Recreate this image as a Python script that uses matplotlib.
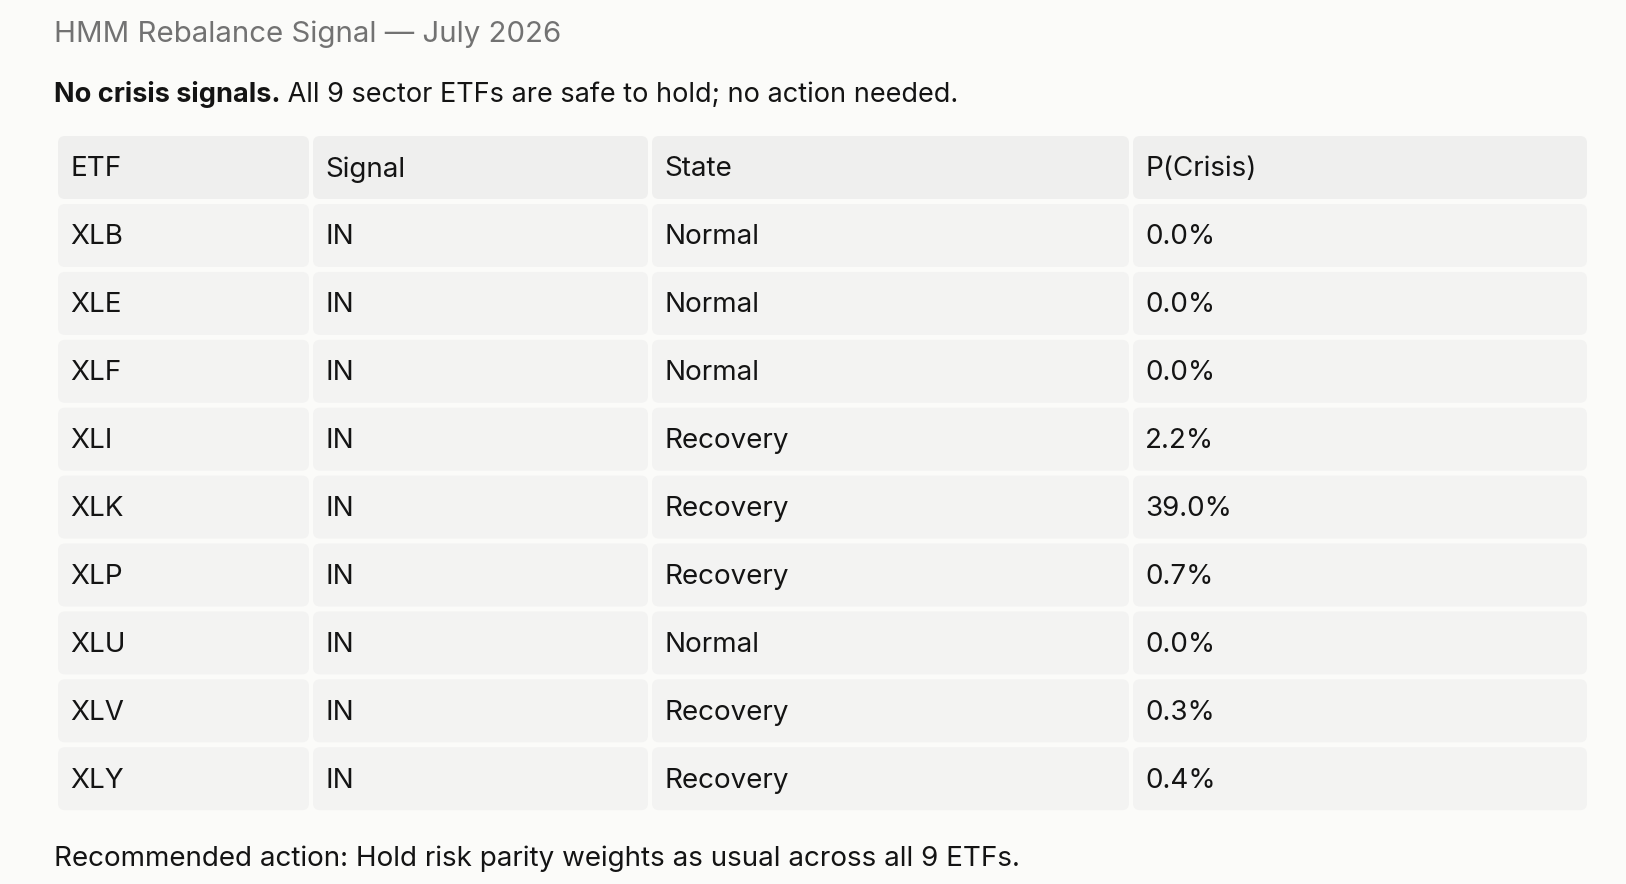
"""HMM rebalance signal summary table."""

import matplotlib

matplotlib.use("Agg")
import matplotlib.pyplot as plt
from matplotlib.patches import FancyBboxPatch

plt.rcParams["font.family"] = ["Inter", "DejaVu Sans"]

title = "HMM Rebalance Signal \u2014 July 2026"
lead_bold = "No crisis signals."
lead_rest = " All 9 sector ETFs are safe to hold; no action needed."
footer = "Recommended action: Hold risk parity weights as usual across all 9 ETFs."

columns = ["ETF", "Signal", "State", "P(Crisis)"]
etfs = ["XLB", "XLE", "XLF", "XLI", "XLK", "XLP", "XLU", "XLV", "XLY"]
signals = ["IN"] * 9
states = ["Normal", "Normal", "Normal", "Recovery", "Recovery",
          "Recovery", "Normal", "Recovery", "Recovery"]
p_crisis = [0.0, 0.0, 0.0, 2.2, 39.0, 0.7, 0.0, 0.3, 0.4]

W, H = 1626, 884
BG = "#fbfbf9"
INK = "#141414"

fig = plt.figure(figsize=(W / 100, H / 100), dpi=100, facecolor=BG)
ax = fig.add_axes([0, 0, 1, 1])
ax.set_xlim(0, W)
ax.set_ylim(H, 0)
ax.axis("off")

fs = 20

ax.text(54, 34, title, fontsize=21.2, color="#727272", va="center", ha="left")
t = ax.text(54, 95, lead_bold, fontsize=19.5, color=INK, va="center",
            ha="left", fontweight="bold")
ax.annotate(lead_rest, xy=(1, 0.5), xycoords=t, fontsize=19.5, color=INK,
            va="center", ha="left")

# table layout (pixels)
col_edges = [(58, 309), (313, 648), (652, 1129), (1133, 1587)]
head_top, head_h = 136, 63
row_top0, row_pitch, row_h = 204, 67.9, 63

rows = [[e, s, st, f"{p:.1f}%"] for e, s, st, p in zip(etfs, signals, states, p_crisis)]


def cell(x0, x1, y0, h, text, fill):
    box = FancyBboxPatch((x0 + 4, y0 + 4), x1 - x0 - 8, h - 8,
                         boxstyle="round,pad=4,rounding_size=7",
                         facecolor=fill, edgecolor="none")
    ax.add_patch(box)
    ax.text(x0 + 12, y0 + h / 2 + 2, text, fontsize=fs, color=INK,
            va="center", ha="left")


for (x0, x1), name in zip(col_edges, columns):
    cell(x0, x1, head_top, head_h, name, "#efefee")

for i, row in enumerate(rows):
    y0 = row_top0 + i * row_pitch
    for (x0, x1), val in zip(col_edges, row):
        cell(x0, x1, y0, row_h, val, "#f3f3f2")

ax.text(54, 859, footer, fontsize=fs, color=INK, va="center", ha="left")

fig.savefig("out.png", dpi=100, facecolor=BG)
plt.close(fig)
